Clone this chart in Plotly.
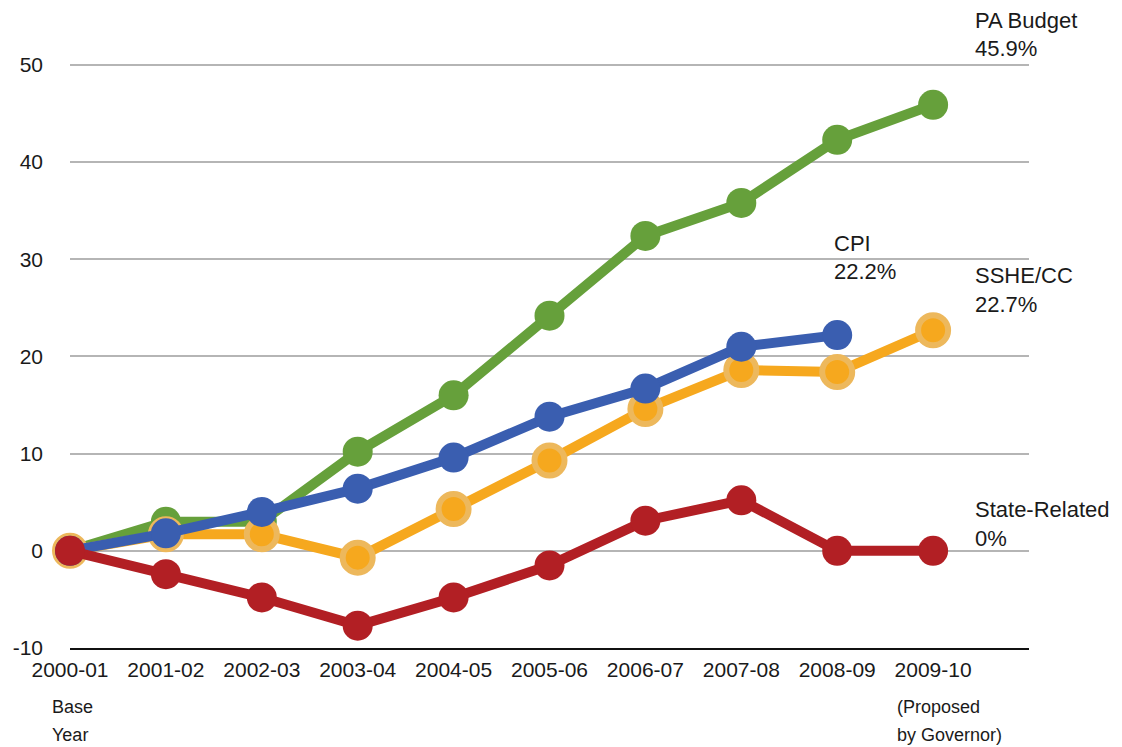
import plotly.graph_objects as go

years = ["2000-01", "2001-02", "2002-03", "2003-04", "2004-05", "2005-06",
         "2006-07", "2007-08", "2008-09", "2009-10"]
pa_budget = [0, 3.0, 3.0, 10.2, 16.0, 24.2, 32.4, 35.8, 42.3, 45.9]
cpi = [0, 1.8, 4.0, 6.4, 9.6, 13.8, 16.7, 21.0, 22.2]
sshe = [0, 1.7, 1.7, -0.7, 4.3, 9.3, 14.6, 18.6, 18.4, 22.7]
state_related = [0, -2.4, -4.8, -7.7, -4.8, -1.5, 3.1, 5.2, 0, 0]
y_ticks = [-10, 0, 10, 20, 30, 40, 50]
y_tick_text = ["-10", "0", "10", "20", "30", "40", "50"]

xi = list(range(len(years)))
FONT = "Liberation Sans, Arial, Helvetica, sans-serif"

fig = go.Figure()

def add(vals, color, mcolor, lcolor, lw):
    fig.add_trace(go.Scatter(
        x=xi[:len(vals)], y=vals, mode="lines+markers",
        line=dict(color=color, width=10),
        marker=dict(size=30, color=mcolor, line=dict(color=lcolor, width=lw)),
        cliponaxis=False, showlegend=False, hoverinfo="skip"))

add(pa_budget, "#66A03B", "#66A03B", "#66A03B", 0)
add(sshe, "#F6A81E", "#F6A81E", "#EDB85C", 6)
add(cpi, "#3A5EB0", "#3A5EB0", "#3A5EB0", 0)
add(state_related, "#B21F24", "#B21F24", "#B21F24", 0)

# page pixel -> paper coords (plot area: x 70..1029, y 63..648 on the page)
def px(x):
    return (x - 70) / 959.0

def py(y):
    return (648 - y) / 585.0

labels = [
    ("PA Budget", 973, 20, 22), ("45.9%", 973, 48, 22),
    ("CPI", 832, 243, 22), ("22.2%", 832, 271, 22),
    ("SSHE/CC", 973, 275, 22), ("22.7%", 973, 304, 22),
    ("State-Related", 973, 510, 22), ("0%", 973, 538, 22),
    ("Base", 50, 707, 18), ("Year", 50, 735, 18),
    ("(Proposed", 895, 707, 18), ("by Governor)", 895, 735, 18),
]
for t, x, y, s in labels:
    fig.add_annotation(x=px(x), y=py(y), xref="paper", yref="paper", text=t,
                       showarrow=False, xanchor="left", yanchor="middle",
                       align="left", font=dict(size=s, color="#1a1a1a", family=FONT))

fig.update_layout(
    width=1114, height=739,
    margin=dict(l=62, r=93, t=55, b=99, autoexpand=False),
    plot_bgcolor="white", paper_bgcolor="white",
    font=dict(family=FONT, size=21, color="#1a1a1a"),
)
fig.update_xaxes(range=[0, 10], tickvals=xi, ticktext=years, showgrid=False,
                 zeroline=False, showline=True, linecolor="#111", linewidth=2,
                 ticks="", tickfont=dict(size=21), ticklabelstandoff=2,
                 automargin=False)
fig.update_yaxes(range=[-10, 50.2], tickvals=y_ticks, ticktext=y_tick_text,
                 showgrid=True, gridcolor="#B5B5B5", gridwidth=1.5,
                 zeroline=False, showline=False, ticks="",
                 tickfont=dict(size=21), ticklabelstandoff=26, automargin=False)

fig.write_html("out.html")
